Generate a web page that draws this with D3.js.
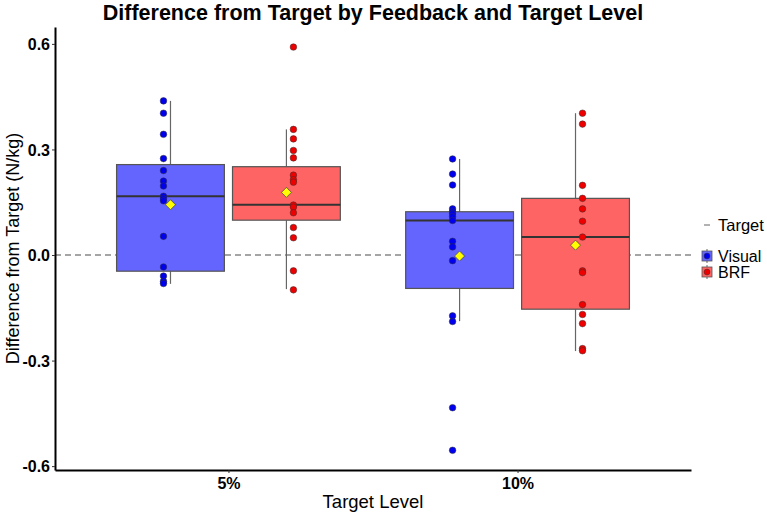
<!DOCTYPE html>
<meta charset="utf-8">
<script src="https://d3js.org/d3.v7.min.js"></script>
<style>
  body { margin: 0; background: #fff; }
  text { font-family: "Liberation Sans", Arial, sans-serif; }
</style>
<div id="chart"></div>
<script>

// target levels and feedback types
var levels = ["5%", "10%"];
var feedback = ["Visual", "BRF"];
var yTicks = [-0.6, -0.3, 0.0, 0.3, 0.6];

// individual points
var visual5  = [0.438, 0.403, 0.343, 0.274, 0.240, 0.210, 0.196, 0.167, 0.160, 0.154, 0.053, -0.034, -0.060, -0.075, -0.081];
var brf5     = [0.591, 0.357, 0.330, 0.297, 0.276, 0.227, 0.214, 0.207, 0.142, 0.136, 0.120, 0.078, 0.049, -0.045, -0.099];
var visual10 = [0.273, 0.230, 0.199, 0.131, 0.123, 0.117, 0.109, 0.098, 0.039, 0.023, -0.016, -0.173, -0.189, -0.434, -0.555];
var brf10    = [0.403, 0.372, 0.198, 0.161, 0.131, 0.096, 0.051, -0.045, -0.050, -0.141, -0.169, -0.195, -0.266, -0.272];

// box stats in order Visual5, BRF5, Visual10, BRF10
var q1      = [-0.046, 0.099, -0.095, -0.154];
var medians = [0.167, 0.143, 0.098, 0.051];
var q3      = [0.257, 0.251, 0.123, 0.161];
var whiskLo = [-0.082, -0.097, -0.188, -0.273];
var whiskHi = [0.438, 0.357, 0.273, 0.403];
var means   = [0.143, 0.178, -0.003, 0.028];

var colors = {Visual: "#0000ee", BRF: "#ee0000"};
var fills = {Visual: "#6464ff", BRF: "#ff6464"};

var groups = [
  {level: "5%", fb: "Visual", pts: visual5},
  {level: "5%", fb: "BRF", pts: brf5},
  {level: "10%", fb: "Visual", pts: visual10},
  {level: "10%", fb: "BRF", pts: brf10}
];
groups.forEach(function(g, i) {
  g.q1 = q1[i]; g.med = medians[i]; g.q3 = q3[i];
  g.lo = whiskLo[i]; g.hi = whiskHi[i]; g.mean = means[i];
});

var W = 767, H = 513;
var margin = {top: 27, right: 76, bottom: 43, left: 55};

var svg = d3.select("#chart").append("svg")
  .attr("width", W).attr("height", H);

var x = d3.scalePoint()
  .domain(levels)
  .range([margin.left, W - margin.right])
  .padding(0.6);

var inner = d3.scaleBand()
  .domain(feedback)
  .range([-0.387 * x.step(), 0.387 * x.step()])
  .paddingInner(0.07);

var y = d3.scaleLinear()
  .domain([-0.611, 0.648])
  .range([H - margin.bottom, margin.top]);

// reference line at 0
svg.append("line")
  .attr("x1", margin.left).attr("x2", W - margin.right)
  .attr("y1", y(0)).attr("y2", y(0))
  .attr("stroke", "#888").attr("stroke-width", 1.3)
  .attr("stroke-dasharray", "6,4");

var g = svg.selectAll(".grp")
  .data(groups)
  .enter().append("g")
  .attr("transform", function(d) {
    return "translate(" + (x(d.level) + inner(d.fb) + inner.bandwidth() / 2) + ",0)";
  });

var bw = inner.bandwidth();

// whiskers
g.append("line")
  .attr("y1", function(d) { return y(d.hi); })
  .attr("y2", function(d) { return y(d.q3); })
  .attr("stroke", "#666").attr("stroke-width", 1.2);
g.append("line")
  .attr("y1", function(d) { return y(d.q1); })
  .attr("y2", function(d) { return y(d.lo); })
  .attr("stroke", "#666").attr("stroke-width", 1.2);

// boxes
g.append("rect")
  .attr("x", -bw / 2)
  .attr("width", bw)
  .attr("y", function(d) { return y(d.q3); })
  .attr("height", function(d) { return y(d.q1) - y(d.q3); })
  .attr("fill", function(d) { return fills[d.fb]; })
  .attr("stroke", "#555").attr("stroke-width", 1.2);

// medians
g.append("line")
  .attr("x1", -bw / 2).attr("x2", bw / 2)
  .attr("y1", function(d) { return y(d.med); })
  .attr("y2", function(d) { return y(d.med); })
  .attr("stroke", "#333").attr("stroke-width", 2);

// points, shifted a little off the box centre
g.each(function(d) {
  var dx = d.fb == "Visual" ? -7 : 7;
  d3.select(this).selectAll("circle")
    .data(d.pts)
    .enter().append("circle")
    .attr("cx", dx)
    .attr("cy", function(v) { return y(v); })
    .attr("r", 3.3)
    .attr("fill", colors[d.fb])
    .attr("stroke", "#333").attr("stroke-width", 0.5);
});

// mean diamonds
g.append("path")
  .attr("d", "M0,-5L5,0L0,5L-5,0Z")
  .attr("transform", function(d) { return "translate(0," + y(d.mean) + ")"; })
  .attr("fill", "#ffff00")
  .attr("stroke", "#444").attr("stroke-width", 0.7);

// axes
var fmt = d3.format(".1f");
var yAxis = svg.append("g")
  .attr("transform", "translate(" + margin.left + ",0)")
  .call(d3.axisLeft(y).tickValues(yTicks)
    .tickFormat(function(d) { return fmt(d).replace("\u2212", "-"); })
    .tickSize(3).tickSizeOuter(0));
var xAxis = svg.append("g")
  .attr("transform", "translate(0," + (H - margin.bottom) + ")")
  .call(d3.axisBottom(x).tickSize(3).tickSizeOuter(0));

[xAxis, yAxis].forEach(function(a) {
  a.select(".domain").attr("stroke", "#000").attr("stroke-width", 2);
  a.selectAll(".tick line").attr("stroke", "#333");
  a.selectAll(".tick text")
    .attr("font-family", "Liberation Sans, Arial, sans-serif")
    .attr("font-size", 16).attr("font-weight", "bold").attr("fill", "#000");
});
yAxis.selectAll(".tick text").attr("x", -5).attr("dy", "0.36em");
xAxis.selectAll(".tick text").attr("y", 5).attr("dy", "0.85em");

// titles
svg.append("text")
  .attr("x", (margin.left + W - margin.right) / 2).attr("y", 20)
  .attr("text-anchor", "middle")
  .attr("font-size", 21.5).attr("font-weight", "bold")
  .text("Difference from Target by Feedback and Target Level");

svg.append("text")
  .attr("x", (margin.left + W - margin.right) / 2).attr("y", 508)
  .attr("text-anchor", "middle")
  .attr("font-size", 18.5)
  .text("Target Level");

svg.append("text")
  .attr("transform", "translate(19," + ((margin.top + H - margin.bottom) / 2) + ")rotate(-90)")
  .attr("text-anchor", "middle")
  .attr("font-size", 18)
  .text("Difference from Target (N/kg)");

// legend
var lg = svg.append("g").attr("transform", "translate(700,0)");
lg.append("line")
  .attr("x1", 4).attr("x2", 10).attr("y1", 225).attr("y2", 225)
  .attr("stroke", "#888").attr("stroke-width", 1.3);
lg.append("text").attr("x", 18).attr("y", 231).attr("font-size", 16.5).text("Target");

var keys = lg.selectAll(".key")
  .data(feedback)
  .enter().append("g")
  .attr("transform", function(d, i) { return "translate(0," + (256 + i * 16) + ")"; });
keys.append("line")
  .attr("x1", 7).attr("x2", 7).attr("y1", -7).attr("y2", 7)
  .attr("stroke", "#666");
keys.append("rect")
  .attr("x", 2).attr("y", -5).attr("width", 10).attr("height", 10)
  .attr("fill", function(d) { return fills[d]; })
  .attr("stroke", "#555").attr("stroke-width", 0.8);
keys.append("circle")
  .attr("cx", 7).attr("cy", 0).attr("r", 3)
  .attr("fill", function(d) { return colors[d]; })
  .attr("stroke", "#333").attr("stroke-width", 0.5);
keys.append("text")
  .attr("x", 18).attr("y", 5.5).attr("font-size", 16)
  .text(function(d) { return d; });

</script>
